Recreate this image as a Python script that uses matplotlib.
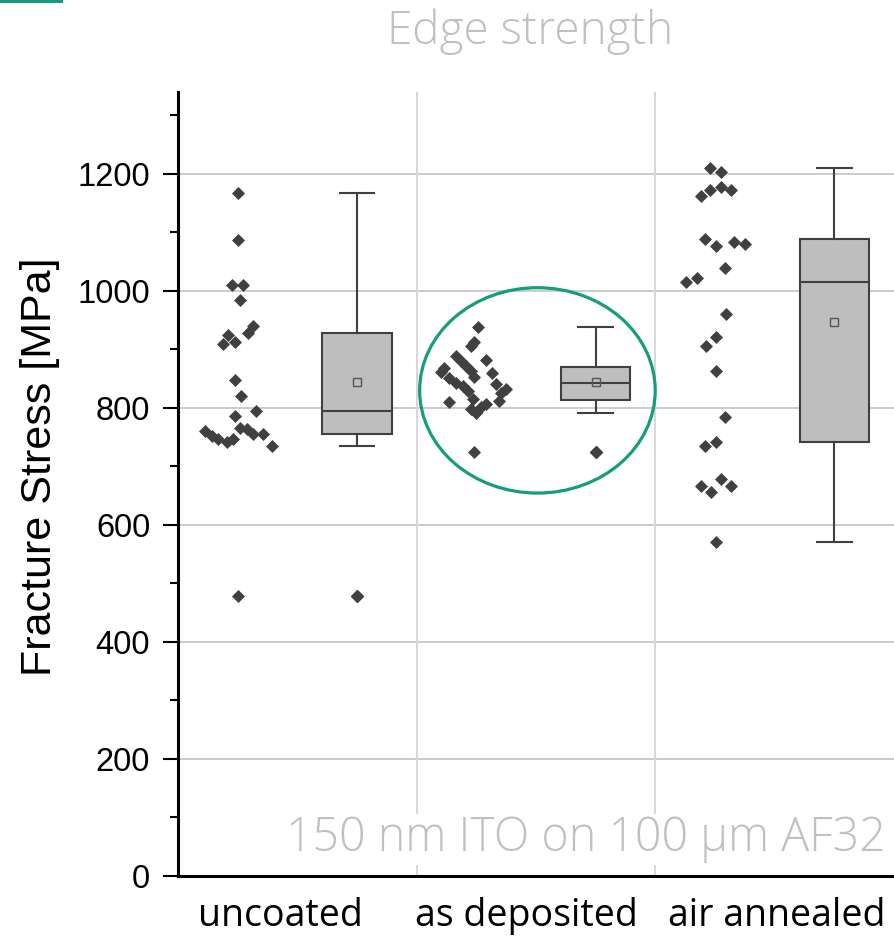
import numpy as np
import matplotlib
matplotlib.use('Agg')
import matplotlib.pyplot as plt
from matplotlib.patches import Ellipse, Rectangle

# data
groups = ['uncoated', 'as deposited', 'air annealed']

uncoated = [1167, 1087, 1010, 1010, 985, 940, 928, 925, 910, 912, 848, 820, 794,
            786, 761, 752, 747, 741, 747, 766, 764, 755, 755, 735, 479]
uncoated_jit = [0, 0, -0.025, 0.021, 0.008, 0.063, 0.042, -0.042, -0.063, -0.013,
                -0.013, 0.013, 0.075, -0.013, -0.138, -0.109, -0.084, -0.046, -0.021,
                0.008, 0.038, 0.063, 0.105, 0.142, 0]

deposited = [939, 912, 906, 889, 880, 872, 863, 853, 882, 859, 869, 861, 852, 843,
             838, 829, 816, 841, 826, 832, 812, 810, 798, 792, 801, 806, 724]
deposited_jit = [0.008, -0.008, -0.021, -0.084, -0.063, -0.042, -0.021, -0.008, 0.042,
                 0.067, -0.134, -0.146, -0.113, -0.084, -0.054, -0.033, -0.013, 0.084,
                 0.105, 0.126, 0.096, -0.113, -0.021, 0, 0.021, 0.042, -0.008]

annealed = [1210, 1204, 1163, 1172, 1177, 1173, 1089, 1076, 1083, 1081, 1039, 1016,
            1022, 961, 922, 906, 863, 785, 735, 742, 667, 656, 679, 667, 571]
annealed_jit = [-0.021, 0.025, -0.059, -0.021, 0.025, 0.067, -0.042, 0.004, 0.079,
                0.126, 0.042, -0.121, -0.075, 0.046, 0.004, -0.038, 0.004, 0.042,
                -0.042, 0.004, -0.059, -0.017, 0.025, 0.067, 0.004]

all_values = [uncoated, deposited, annealed]
all_jitter = [uncoated_jit, deposited_jit, annealed_jit]

green = '#179c7d'
dark = '#404040'

fig = plt.figure(figsize=(8.94, 9.4), dpi=100)
ax = fig.add_axes([178/894, 64/940, 716/894, 784/940])

for i, (vals, jit) in enumerate(zip(all_values, all_jitter)):
    ax.scatter(i + 0.25 + np.array(jit), vals, marker='D', s=44, color=dark,
               linewidths=0, zorder=3)

ax.boxplot(all_values, positions=[0.75, 1.75, 2.75], widths=0.29, patch_artist=True,
           showmeans=True, whis=1.5,
           boxprops=dict(facecolor='#bebebe', edgecolor=dark, linewidth=1.5),
           medianprops=dict(color=dark, linewidth=1.5),
           whiskerprops=dict(color=dark, linewidth=1.5),
           capprops=dict(color=dark, linewidth=1.5),
           meanprops=dict(marker='s', markerfacecolor='none', markeredgecolor='#555555',
                          markersize=6, markeredgewidth=1),
           flierprops=dict(marker='D', markerfacecolor=dark, markeredgecolor=dark,
                           markersize=6.6),
           zorder=3)

ax.set_xlim(0, 3)
ax.set_ylim(0, 1340)
ax.set_yticks(np.arange(0, 1201, 200))
ax.set_yticks(np.arange(100, 1301, 200), minor=True)
ax.set_xticks([0.43, 1.46, 2.51])
ax.set_xticklabels(groups, fontsize=27, family='Open Sans')
ax.tick_params(axis='x', length=0, pad=15)
ax.tick_params(axis='y', which='major', length=11, width=1.5, pad=9, labelsize=23.5)
ax.tick_params(axis='y', which='minor', length=6, width=1.5)
for lab in ax.get_yticklabels():
    lab.set_family('Liberation Sans')

ax.spines['top'].set_visible(False)
ax.spines['right'].set_visible(False)
ax.spines['left'].set_linewidth(2.2)
ax.spines['bottom'].set_linewidth(2.2)

for y in range(200, 1201, 200):
    ax.axhline(y, color='#c4c4c4', lw=1.2, zorder=0)
for x in [1, 2]:
    ax.axvline(x, color='#d8d8d8', lw=1.5, zorder=0)

ax.set_ylabel('Fracture Stress [MPa]', fontsize=31, family='Liberation Sans')
ax.yaxis.set_label_coords(-0.165, 0.522)

ax.add_patch(Ellipse((1.506, 830), 0.987, 351, fill=False, edgecolor=green, lw=2.3,
                     zorder=4))

ax.text(0.988, 0.047, '150 nm ITO on 100 µm AF32', transform=ax.transAxes,
        ha='right', va='center', fontsize=33.5, color='#c0c0c0', family='Open Sans',
        fontweight='light', zorder=5,
        bbox=dict(facecolor='white', edgecolor='none', pad=1))

fig.text(0.593, 0.966, 'Edge strength', ha='center', va='center', fontsize=33,
         color='#c0c0c0', family='Open Sans', fontweight='light')

fig.patches.append(Rectangle((0, 1 - 3/940), 63/894, 3/940, transform=fig.transFigure,
                             facecolor=green, edgecolor='none'))

fig.savefig('out.png', dpi=100)
